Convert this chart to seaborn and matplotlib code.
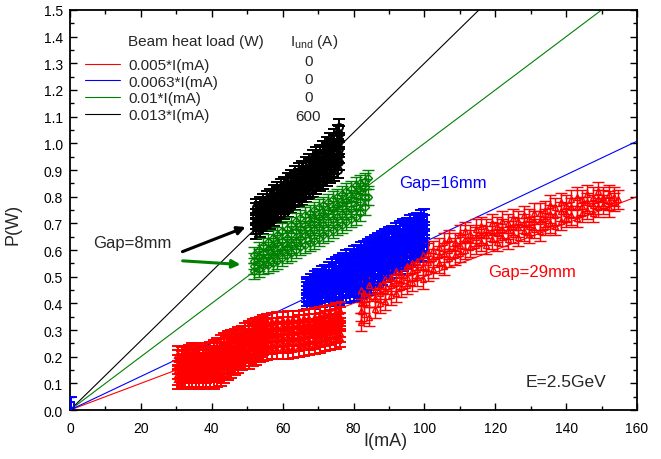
import numpy as np
import matplotlib
matplotlib.use("Agg")
import matplotlib.pyplot as plt
from matplotlib.ticker import MultipleLocator, FormatStrFormatter
import seaborn as sns

# fitted heat load lines P = k * I
fit_I = [0, 160]
fit_k = [0.005, 0.0063, 0.01, 0.013]
fit_labels = ["0.005*I(mA)", "0.0063*I(mA)", "0.01*I(mA)", "0.013*I(mA)"]
fit_colors = ["#ff0000", "#0000ff", "#008000", "#000000"]
iund_values = ["0", "0", "0", "600"]

# measured points, grouped in columns of current (mA) with several P values (W)
red_low_x = [30.5, 31.5, 32.5, 33.5, 34.5, 35.5, 36.5, 37.5, 38.5, 39.5,
             40.5, 41.5, 42.5, 43.5, 44.5, 45.5, 46.5, 47.5, 48.5, 49.5,
             50.5, 51.5, 52.5, 53.5, 54.5, 55.5, 57.0, 58.5, 60.0, 61.5,
             63.0, 64.5, 66.0, 67.5, 69.0, 70.5, 72.0, 73.5, 75.0, 76.3]
red_low_y = [[.115, .13, .15, .17, .19, .205], [.12, .135, .155, .17, .185, .20],
             [.115, .135, .15, .175, .19, .205], [.12, .14, .16, .18, .195, .21],
             [.115, .135, .155, .175, .195, .215], [.12, .14, .16, .18, .20, .218],
             [.115, .135, .155, .17, .19, .21], [.12, .135, .15, .17, .19, .205],
             [.115, .135, .155, .175, .195, .215], [.12, .14, .16, .18, .20, .22],
             [.115, .14, .16, .185, .205, .228], [.12, .145, .165, .19, .215, .236],
             [.125, .15, .175, .20, .22, .245], [.135, .16, .185, .205, .23, .252],
             [.146, .17, .19, .215, .24, .26], [.155, .175, .20, .22, .245, .265],
             [.165, .185, .205, .23, .25, .27], [.175, .195, .215, .235, .255, .275],
             [.184, .20, .22, .24, .26, .28], [.188, .21, .23, .25, .27, .29],
             [.19, .21, .235, .255, .28, .30], [.20, .22, .24, .26, .285, .305],
             [.205, .225, .245, .27, .29, .31], [.215, .235, .255, .275, .295, .315],
             [.22, .24, .26, .28, .30, .32], [.222, .245, .265, .285, .305, .325],
             [.225, .245, .27, .29, .31, .33], [.225, .25, .27, .29, .31, .332],
             [.228, .25, .27, .295, .315, .334], [.228, .25, .275, .295, .315, .335],
             [.23, .255, .275, .295, .315, .337], [.232, .255, .275, .30, .32, .338],
             [.236, .26, .28, .30, .32, .34], [.24, .26, .285, .305, .325, .342],
             [.245, .265, .285, .305, .325, .346], [.25, .27, .29, .31, .33, .35],
             [.255, .275, .295, .315, .335, .355], [.26, .28, .30, .32, .34, .36],
             [.265, .285, .305, .325, .345, .365], [.27, .29, .31, .33, .35, .37]]

red_high_x = [82.0, 83.0, 84.5, 86.0, 87.5, 89.0, 90.5, 92.0, 93.5, 95.0,
              96.5, 98.0, 99.5, 101.0, 102.5, 104.0, 105.5, 107.0, 108.5, 110.0,
              111.5, 113.0, 114.5, 116.0, 117.5, 119.0, 120.5, 122.0, 123.5, 125.0,
              126.5, 128.0, 129.5, 131.0, 132.5, 134.0, 135.5, 137.0, 138.5, 140.0,
              141.5, 143.0, 144.5, 146.0, 147.5, 149.0, 150.5, 152.0, 153.5, 154.5]
red_high_y = [[.33, .37, .40, .45], [.36, .40, .44], [.35, .42, .47], [.38, .42, .45],
              [.40, .44, .47], [.41, .45, .49], [.43, .47, .50], [.44, .48, .52],
              [.46, .49, .51], [.47, .50, .54], [.48, .52, .55], [.50, .53, .56],
              [.49, .54, .58], [.52, .555, .59], [.53, .57, .60], [.55, .58, .61],
              [.54, .59, .63], [.57, .60, .64], [.58, .61, .63], [.59, .62, .66],
              [.60, .64, .67], [.61, .64, .66], [.62, .65, .68], [.63, .66, .69],
              [.62, .655, .68], [.64, .67, .70], [.63, .665, .69], [.65, .68, .71],
              [.64, .675, .70], [.66, .69, .72], [.65, .685, .71], [.67, .70, .73],
              [.66, .69, .72], [.68, .71, .74], [.67, .71, .74], [.69, .72, .75],
              [.70, .735, .77], [.69, .73, .76], [.71, .745, .78], [.72, .74, .77],
              [.73, .76, .79], [.72, .76, .80], [.74, .765, .79], [.75, .78, .81],
              [.74, .77, .80], [.76, .79, .82], [.77, .79, .80], [.76, .785, .81],
              [.78, .80], [.79]]

blue_x = [0.3, 67, 68, 69, 70, 71, 72, 73, 74, 75, 76, 77, 78, 79, 80, 81, 82, 83,
          84, 85, 86, 87, 88, 89, 90, 91, 92, 93, 94, 95, 96, 97, 98, 99, 100]
blue_y = [[.02], [.41, .42, .435, .45, .46, .47], [.41, .425, .44, .455, .47, .48],
          [.41, .425, .44, .46, .475, .49], [.415, .43, .45, .465, .485, .50],
          [.415, .435, .455, .47, .49, .51], [.42, .44, .46, .475, .495, .515],
          [.42, .44, .46, .48, .505, .525], [.42, .445, .465, .49, .51, .535],
          [.425, .45, .47, .495, .52, .545], [.425, .45, .475, .50, .525, .55],
          [.43, .455, .48, .505, .535, .56], [.43, .455, .485, .51, .54, .57],
          [.435, .46, .49, .52, .545, .575], [.435, .465, .495, .525, .555, .585],
          [.44, .47, .50, .53, .56, .59], [.45, .48, .51, .54, .57, .60],
          [.455, .485, .515, .545, .575, .605], [.46, .49, .52, .55, .58, .61],
          [.47, .50, .53, .56, .59, .62], [.48, .51, .54, .565, .595, .625],
          [.49, .52, .55, .575, .605, .635], [.50, .53, .555, .585, .61, .64],
          [.51, .54, .565, .595, .62, .65], [.52, .545, .575, .60, .63, .655],
          [.525, .55, .58, .605, .635, .66], [.535, .56, .59, .615, .645, .67],
          [.54, .57, .595, .625, .65, .68], [.55, .575, .605, .63, .66, .685],
          [.56, .585, .61, .64, .665, .69], [.565, .59, .62, .645, .675, .70],
          [.575, .60, .625, .655, .68, .705], [.585, .61, .635, .66, .685, .71],
          [.59, .615, .64, .67, .695, .72], [.60, .625, .65, .675, .70, .725]]

green_x = [52.0, 53.3, 54.6, 55.9, 57.2, 58.5, 59.8, 61.1, 62.4, 63.7, 65.0, 66.3,
           67.6, 68.9, 70.2, 71.5, 72.8, 74.1, 75.4, 76.7, 78.0, 79.3, 80.6, 81.9,
           83.2, 84.0]
green_y = [[.52, .54, .56, .58], [.53, .55, .575, .60], [.54, .565, .59, .615],
           [.545, .575, .60, .63], [.55, .58, .615, .645], [.56, .59, .625, .655],
           [.57, .60, .635, .67], [.58, .61, .645, .68], [.59, .62, .66, .695],
           [.60, .635, .67, .71], [.61, .645, .68, .72], [.62, .655, .695, .73],
           [.625, .665, .705, .74], [.635, .675, .715, .75], [.645, .685, .725, .76],
           [.655, .695, .735, .77], [.665, .705, .745, .78], [.675, .715, .755, .79],
           [.685, .725, .765, .80], [.695, .735, .775, .81], [.705, .745, .785, .82],
           [.715, .755, .795, .83], [.725, .765, .81, .845], [.74, .78, .82, .85],
           [.76, .80, .835, .86], [.80, .87]]

black_x = [52.5, 53.5, 54.5, 55.5, 56.5, 57.5, 58.5, 59.5, 60.5, 61.5, 62.5, 63.5,
           64.5, 65.5, 66.5, 67.5, 68.5, 69.5, 70.5, 71.5, 72.5, 73.5, 74.5, 75.5, 76.0]
black_y = [[.67, .69, .71, .725, .745, .76], [.68, .70, .715, .735, .75, .77],
           [.69, .705, .725, .745, .76, .78], [.70, .715, .735, .755, .77, .79],
           [.71, .73, .745, .765, .78, .80], [.72, .74, .755, .775, .795, .815],
           [.73, .75, .765, .785, .805, .825], [.735, .755, .775, .795, .815, .835],
           [.745, .765, .785, .805, .825, .845], [.755, .775, .795, .815, .84, .86],
           [.77, .79, .81, .83, .85, .87], [.78, .80, .82, .84, .865, .885],
           [.79, .81, .83, .855, .875, .895], [.80, .82, .84, .865, .885, .905],
           [.81, .83, .855, .875, .90, .92], [.82, .84, .865, .885, .91, .93],
           [.83, .855, .875, .90, .92, .945], [.84, .865, .885, .91, .93, .955],
           [.85, .875, .895, .92, .94, .965], [.86, .885, .91, .935, .955, .98],
           [.87, .895, .92, .945, .97, .995], [.88, .905, .93, .955, .985, 1.01],
           [.89, .915, .945, .97, 1.0, 1.025], [.90, .93, .955, .985, 1.01, 1.04],
           [.93, .955, .98, 1.01, 1.035, 1.06]]

err_red = 0.035
err_other = 0.03


def flat(cols, ys):
    xs = [x for x, yy in zip(cols, ys) for _ in yy]
    vs = [v for yy in ys for v in yy]
    return np.array(xs), np.array(vs)


sns.set_style("ticks")
plt.rcParams["font.family"] = ["Liberation Sans", "DejaVu Sans"]
plt.rcParams["mathtext.fontset"] = "custom"
plt.rcParams["mathtext.rm"] = "Liberation Sans"

fig = plt.figure(figsize=(6.61, 4.6), dpi=100)
ax = fig.add_axes([0.1059, 0.1065, 0.8578, 0.8696])

# fit lines
fit_I = np.array(fit_I)
for k, lab, col in zip(fit_k, fit_labels, fit_colors):
    sns.lineplot(x=fit_I, y=k * fit_I, color=col, lw=0.8, ax=ax, label=lab)
handles = ax.get_lines()[:4]

# data with error bars (last flag: dense cluster drawn heavier)
groups = [
    (black_x, black_y, "#000000", "o", err_other, True),
    (green_x, green_y, "#008000", "D", err_other, False),
    (blue_x, blue_y, "#0000ff", "s", err_other, True),
    (red_low_x, red_low_y, "#ff0000", "^", err_red, True),
    (red_high_x, red_high_y, "#ff0000", "^", err_red, False),
]
for gx, gy, col, mk, err, dense in groups:
    xs, ys = flat(gx, gy)
    lw = 1.4 if dense else 1.0
    ax.errorbar(xs, ys, yerr=err, fmt=mk, color=col, mfc="none", mec=col,
                ms=5 if mk != "D" else 4.5, mew=lw, elinewidth=lw,
                capsize=4.5 if dense else 4, capthick=lw, zorder=3)

ax.set_xlim(0, 160)
ax.set_ylim(0, 1.5)
ax.xaxis.set_major_locator(MultipleLocator(20))
ax.xaxis.set_minor_locator(MultipleLocator(10))
ax.yaxis.set_major_locator(MultipleLocator(0.1))
ax.yaxis.set_minor_locator(MultipleLocator(0.05))
ax.yaxis.set_major_formatter(FormatStrFormatter("%.1f"))
ax.tick_params(which="both", direction="in", top=True, right=True, width=1,
               labelsize=10, colors="black")
ax.tick_params(which="major", length=5)
ax.tick_params(which="minor", length=3)
ax.tick_params(axis="x", pad=8)
ax.tick_params(axis="y", pad=5)
for sp in ax.spines.values():
    sp.set_linewidth(1.3)
    sp.set_color("black")

ax.set_xlabel("I(mA)", fontsize=13)
ax.set_ylabel("P(W)", fontsize=13)
ax.xaxis.set_label_coords(0.556, -0.055)
ax.yaxis.set_label_coords(-0.085, 0.4675)

# legend table
leg = ax.legend(handles, fit_labels, loc="upper left", bbox_to_anchor=(0.026, 0.88),
                frameon=False, fontsize=11, handlelength=2.3, handletextpad=0.53,
                labelspacing=0.18, borderpad=0, borderaxespad=0)
ax.text(16.4, 1.384, "Beam heat load (W)", fontsize=11, va="center", ha="left")
ax.text(62, 1.384, r"I$_{\rm und}$ (A)", fontsize=11, va="center", ha="left")
for row_y, val in zip([1.309, 1.241, 1.174, 1.102], iund_values):
    ax.text(67.2, row_y, val, fontsize=11, va="center", ha="center")

# annotations
ax.annotate("", xy=(50.3, 0.69), xytext=(31, 0.59),
            arrowprops=dict(arrowstyle="-|>", color="black", lw=2.2, mutation_scale=12))
ax.annotate("", xy=(48.9, 0.545), xytext=(31, 0.56),
            arrowprops=dict(arrowstyle="-|>", color="#008000", lw=2.2, mutation_scale=12))
ax.text(6.5, 0.63, "Gap=8mm", fontsize=12, va="center", ha="left")
ax.text(93, 0.855, "Gap=16mm", fontsize=12, va="center", ha="left", color="#0000ff")
ax.text(118, 0.52, "Gap=29mm", fontsize=12, va="center", ha="left", color="#ff0000")
ax.text(128.6, 0.107, "E=2.5GeV", fontsize=12.5, va="center", ha="left")

fig.savefig("out.png", dpi=100)
